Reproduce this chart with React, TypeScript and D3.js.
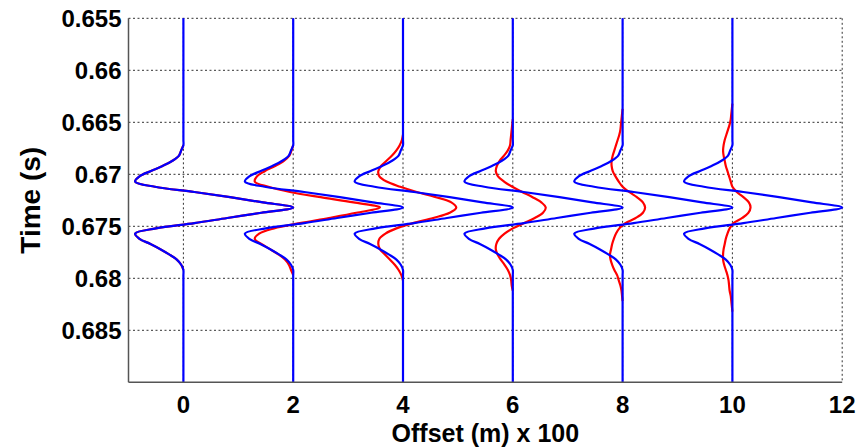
import React from 'react';
import * as d3 from 'd3';

// ---------- data ----------
const traceOffsets = [0, 2, 4, 6, 8, 10];
const xTicks = [0, 2, 4, 6, 8, 10, 12];
const xTickLabels = ['0', '2', '4', '6', '8', '10', '12'];
const yTicks = [0.655, 0.66, 0.665, 0.67, 0.675, 0.68, 0.685];
const yTickLabels = ['0.655', '0.66', '0.665', '0.67', '0.675', '0.68', '0.685'];
const xDomain = [-1, 12];
const yDomain = [0.655, 0.69];
const centerTime = 0.6732; // s
// sample times relative to the event, ms
const relTimeMs = [
  -10, -9.5, -9, -8.5, -8, -7.5, -7, -6.5, -6, -5.5, -5, -4.5, -4, -3.5, -3, -2.5, -2, -1.5, -1, -0.5,
  0, 0.5, 1, 1.5, 2, 2.5, 3, 3.5, 4, 4.5, 5, 5.5, 6, 6.5, 7, 7.5, 8, 8.5, 9, 9.5, 10,
];
// blue (reference) wavelet, same on every trace
const blueWavelet = [
  0, 0, 0, 0, 0, 0, 0, 0, 0, -0.04, -0.08, -0.2, -0.38, -0.6, -0.8, -0.88, -0.52, 0.2, 0.85, 1.45,
  2.0, 1.42, 0.8, 0.2, -0.5, -0.88, -0.8, -0.6, -0.42, -0.26, -0.12, -0.04, 0, 0, 0, 0, 0, 0, 0, 0, 0,
];
// red (stretched) wavelets, one per trace
const red0 = [
  0, 0, 0, 0, 0, 0, 0, 0, 0, -0.04, -0.08, -0.2, -0.38, -0.6, -0.8, -0.88, -0.52, 0.2, 0.85, 1.45,
  2.0, 1.42, 0.8, 0.2, -0.5, -0.88, -0.8, -0.6, -0.42, -0.26, -0.12, -0.04, 0, 0, 0, 0, 0, 0, 0, 0, 0,
];
const red2 = [
  0, 0, 0, 0, 0, 0, 0, 0, 0, -0.03, -0.07, -0.17, -0.33, -0.52, -0.66, -0.7, -0.45, -0.06, 0.5, 1.1,
  1.58, 1.15, 0.65, 0.12, -0.35, -0.62, -0.7, -0.58, -0.42, -0.27, -0.15, -0.08, -0.04, 0, 0, 0, 0, 0, 0, 0, 0,
];
const red4 = [
  0, 0, 0, 0, 0, 0, 0, -0.02, -0.06, -0.12, -0.2, -0.3, -0.4, -0.45, -0.43, -0.3, -0.05, 0.25, 0.6, 0.88,
  0.97, 0.85, 0.55, 0.18, -0.12, -0.32, -0.43, -0.45, -0.42, -0.33, -0.24, -0.15, -0.08, -0.03, 0, 0, 0, 0, 0, 0, 0,
];
const red6 = [
  0, 0, 0, 0, -0.01, -0.02, -0.03, -0.04, -0.05, -0.09, -0.16, -0.24, -0.29, -0.31, -0.27, -0.16, -0.01, 0.17, 0.36, 0.52,
  0.6, 0.55, 0.4, 0.2, 0.0, -0.15, -0.25, -0.3, -0.31, -0.28, -0.22, -0.15, -0.09, -0.05, -0.03, -0.02, 0, 0, 0, 0, 0,
];
const red8 = [
  0, 0, -0.01, -0.02, -0.03, -0.04, -0.06, -0.09, -0.12, -0.15, -0.18, -0.2, -0.2, -0.18, -0.13, -0.07, 0, 0.12, 0.26, 0.37,
  0.41, 0.37, 0.24, 0.05, -0.06, -0.12, -0.16, -0.19, -0.21, -0.23, -0.22, -0.19, -0.15, -0.1, -0.07, -0.04, -0.02, -0.01, 0, 0, 0,
];
const red10 = [
  0, -0.01, -0.02, -0.03, -0.05, -0.08, -0.11, -0.14, -0.16, -0.17, -0.16, -0.14, -0.12, -0.09, -0.06, -0.03, 0, 0.08, 0.2, 0.3,
  0.33, 0.29, 0.18, 0.02, -0.05, -0.09, -0.12, -0.14, -0.16, -0.17, -0.17, -0.15, -0.12, -0.09, -0.07, -0.06, -0.05, -0.03, -0.02, -0.01, 0,
];
const redWavelets = [red0, red2, red4, red6, red8, red10];

// ---------- layout ----------
const W = 856;
const H = 448;
const plotLeft = 128.5;
const plotRight = 842.2;
const plotTop = 18.3;
const plotBottom = 382.3;
const FONT = "'Liberation Sans', Arial, Helvetica, sans-serif";

export default function App() {
  const x = d3.scaleLinear().domain(xDomain).range([plotLeft, plotRight]);
  const y = d3.scaleLinear().domain(yDomain).range([plotTop, plotBottom]);
  const line = d3
    .line<[number, number]>()
    .x((d) => x(d[0]))
    .y((d) => y(d[1]))
    .curve(d3.curveCatmullRom);

  const samplesFor = (off: number, amps: number[]): [number, number][] =>
    amps.map((a, i) => [off + a, centerTime + relTimeMs[i] / 1000]);

  const bluePath = (off: number) => {
    const pts: [number, number][] = [[off, yDomain[0]], ...samplesFor(off, blueWavelet), [off, yDomain[1]]];
    return line(pts) || '';
  };

  const redPath = (off: number, amps: number[]) => {
    let first = amps.findIndex((v) => v !== 0);
    let last = amps.length - 1 - [...amps].reverse().findIndex((v) => v !== 0);
    first = Math.max(0, first - 1);
    last = Math.min(amps.length - 1, last + 1);
    const pts = samplesFor(off, amps).slice(first, last + 1);
    return line(pts) || '';
  };

  return (
    <svg
      width={W}
      height={H}
      style={{ position: 'absolute', left: 0, top: 0, background: '#fff' }}
      fontFamily={FONT}
    >
      {/* grid */}
      <g stroke="#333" strokeWidth={1} strokeDasharray="2,2.5">
        {yTicks.map((t) => (
          <line key={'gy' + t} x1={plotLeft} x2={plotRight} y1={y(t)} y2={y(t)} />
        ))}
        {xTicks.map((t) => (
          <line key={'gx' + t} x1={x(t)} x2={x(t)} y1={plotTop} y2={plotBottom} />
        ))}
      </g>

      {/* traces */}
      <g fill="none" strokeWidth={2.2} strokeLinejoin="round">
        {traceOffsets.map((off, i) => (
          <path key={'r' + off} d={redPath(off, redWavelets[i])} stroke="#ff0000" />
        ))}
        {traceOffsets.map((off) => (
          <path key={'b' + off} d={bluePath(off)} stroke="#0000ff" />
        ))}
      </g>

      {/* axes */}
      <g stroke="#555" strokeWidth={1.5}>
        <line x1={plotLeft} x2={plotLeft} y1={plotTop} y2={plotBottom} />
        <line x1={plotLeft} x2={plotRight} y1={plotBottom} y2={plotBottom} />
      </g>

      {/* tick labels */}
      <g fontSize={24} fontWeight="bold" fill="#000">
        {yTicks.map((t, i) => (
          <text key={'ly' + t} x={plotLeft - 7} y={y(t)} textAnchor="end" dominantBaseline="central">
            {yTickLabels[i]}
          </text>
        ))}
        {xTicks.map((t, i) => (
          <text key={'lx' + t} x={x(t)} y={plotBottom + 31} textAnchor="middle">
            {xTickLabels[i]}
          </text>
        ))}
      </g>

      {/* axis titles */}
      <text
        x={(plotLeft + plotRight) / 2}
        y={442}
        textAnchor="middle"
        fontSize={25}
        fontWeight="bold"
      >
        Offset (m) x 100
      </text>
      <text
        transform={`translate(40, ${(plotTop + plotBottom) / 2}) rotate(-90)`}
        textAnchor="middle"
        fontSize={28}
        fontWeight="bold"
      >
        Time (s)
      </text>
    </svg>
  );
}
